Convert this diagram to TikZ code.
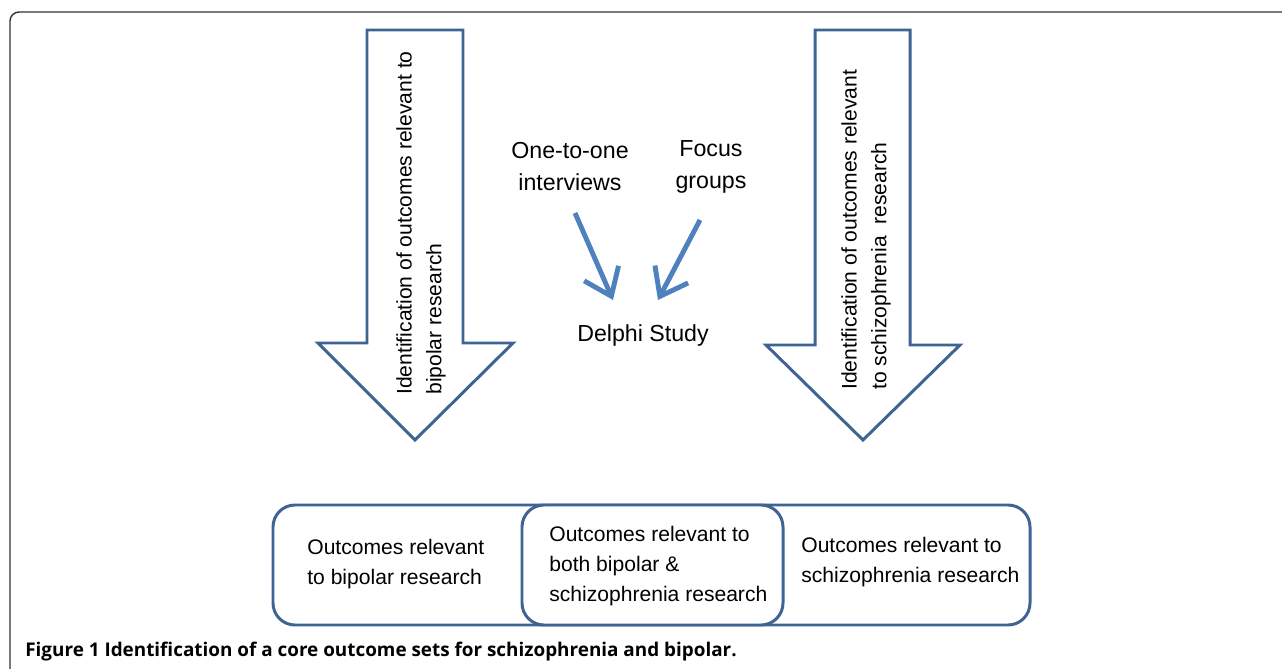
\documentclass[tikz,border=0pt]{standalone}
\usepackage{fontspec}
\setmainfont{Liberation Sans}
\newfontfamily\capfont{Open Sans}
\usetikzlibrary{arrows.meta}
\definecolor{arrowblue}{HTML}{3F6494}
\definecolor{lightblue}{HTML}{4F81BD}
\definecolor{framegray}{HTML}{333333}
\tikzset{
  bigarrow/.style={draw=arrowblue, line width=1.7pt, line join=miter},
  outbox/.style={draw=arrowblue, line width=1.7pt, rounded corners=0.44cm},
  lbl/.style={font=\fontsize{12}{17}\selectfont, inner sep=0pt},
  midlbl/.style={font=\fontsize{13.2}{18.2}\selectfont, inner sep=0pt},
  smallarrow/.style={draw=lightblue, line width=2.8pt, -{Straight Barb[length=5mm,width=7.5mm]}}
}
\begin{document}
\begin{tikzpicture}[x=0.02cm, y=-0.02cm]
  \useasboundingbox (0,0) rectangle (1282,669);
  \draw [framegray, line width=0.8pt, rounded corners=0.18cm] (1300,12) -- (10,12) -- (10,690);

  \draw [bigarrow] (367,30) -- (463,30) -- (463,343) -- (513,343) -- (415,440) -- (318,343) -- (367,343) -- cycle;
  \draw [bigarrow] (815,30) -- (910,30) -- (910,345) -- (960,345) -- (863,440) -- (766,345) -- (815,345) -- cycle;

  \node [lbl, rotate=90, anchor=west, align=left] (bipid) at (421,395) {Identification of outcomes relevant to\\bipolar research};
  \node [lbl, rotate=90, anchor=west, align=left] (schid) at (866,390) {Identification of outcomes relevant\\to schizophrenia\ \ research};

  \node [midlbl, align=center] (interv) at (570,167) {One-to-one\\interviews};
  \node [midlbl, align=center] (focus) at (711,167) {Focus\\groups};
  \node [midlbl] (delphi) at (643,336) {Delphi Study};
  \coordinate (ifrom) at (575,213);
  \coordinate (ito) at (613,300);
  \coordinate (ffrom) at (700,220);
  \coordinate (fto) at (658,300);
  \draw [smallarrow] (ifrom) -- (ito);
  \draw [smallarrow] (ffrom) -- (fto);

  \draw [outbox] (273,505) rectangle (1030,625);
  \draw [outbox, fill=white] (522,505) rectangle (783,625);
  \node [lbl, anchor=west, align=left] (bipout) at (307,564) {Outcomes relevant\\to bipolar research};
  \node [lbl, anchor=west, align=left] (bothout) at (549,566) {Outcomes relevant to\\both bipolar \&\\schizophrenia research};
  \node [lbl, anchor=west, align=left] (schout) at (801,562) {Outcomes relevant to\\schizophrenia research};

  \node [font=\capfont\bfseries\fontsize{10.75}{13}\selectfont, anchor=west, inner sep=0pt] (caption) at (25,652) {Figure 1 Identification of a core outcome sets for schizophrenia and bipolar.};
\end{tikzpicture}
\end{document}
